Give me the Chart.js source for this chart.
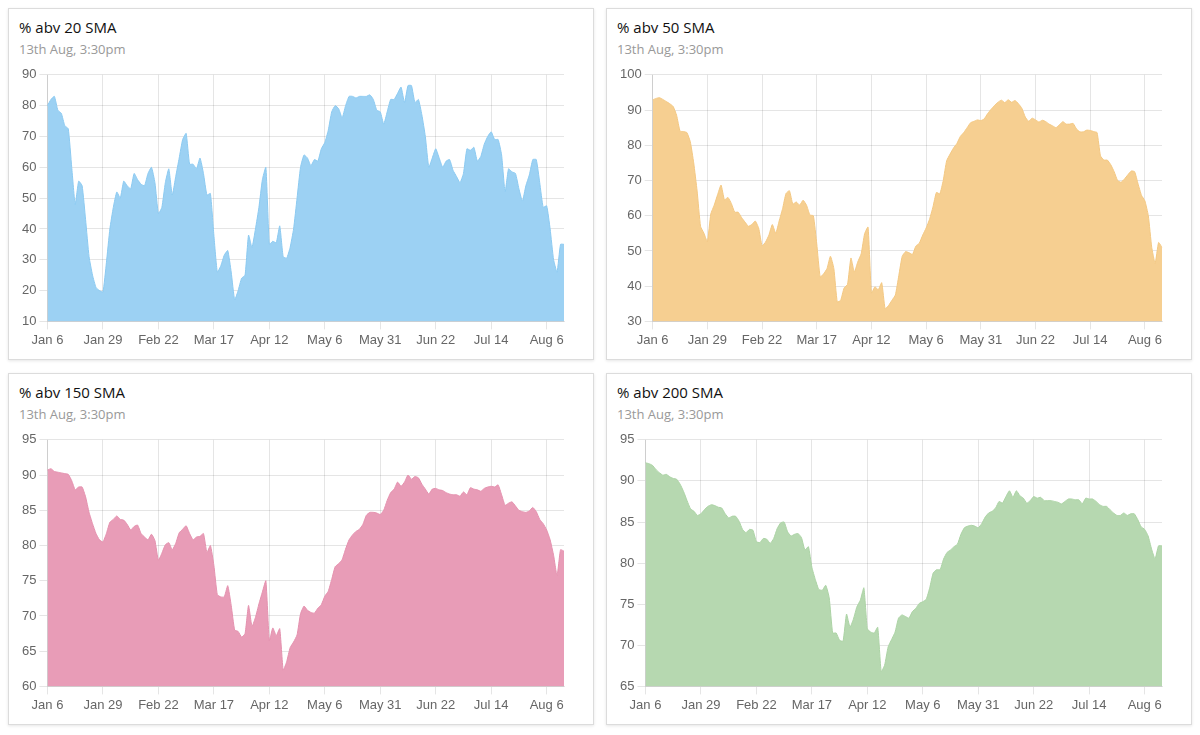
<!DOCTYPE html>
<html>
<head>
<meta charset="utf-8">
<script src="https://cdn.jsdelivr.net/npm/chart.js@4"></script>
<style>
  html, body { margin: 0; padding: 0; background: #fff; }
  body { width: 1200px; height: 735px; position: relative; overflow: hidden; }
  .card { position: absolute; width: 586px; height: 352px; background: #fff;
          border: 1px solid #dcdcdc; box-sizing: border-box;
          box-shadow: 0 1px 3px rgba(0,0,0,0.10); }
  .title { position: absolute; left: 10px; top: 9px; font-family: "Open Sans", "Liberation Sans", sans-serif;
           font-size: 15px; line-height: 18px; color: #111; white-space: nowrap; }
  .sub { position: absolute; left: 10px; top: 32px; font-family: "Open Sans", "Liberation Sans", sans-serif;
         font-size: 13px; line-height: 16px; color: #999; white-space: nowrap; }
  .cw { position: absolute; left: -1px; top: 55px; width: 586px; height: 292px; }
</style>
</head>
<body>
<div class="card" style="left:8px;top:8px"><div class="title">% abv 20 SMA</div><div class="sub">13th Aug, 3:30pm</div><div class="cw"><canvas id="c1"></canvas></div></div>
<div class="card" style="left:606px;top:8px"><div class="title">% abv 50 SMA</div><div class="sub">13th Aug, 3:30pm</div><div class="cw"><canvas id="c2"></canvas></div></div>
<div class="card" style="left:8px;top:373px"><div class="title">% abv 150 SMA</div><div class="sub">13th Aug, 3:30pm</div><div class="cw"><canvas id="c3"></canvas></div></div>
<div class="card" style="left:606px;top:373px"><div class="title">% abv 200 SMA</div><div class="sub">13th Aug, 3:30pm</div><div class="cw"><canvas id="c4"></canvas></div></div>
<script>
const tickLabels = ['Jan 6','Jan 29','Feb 22','Mar 17','Apr 12','May 6','May 31','Jun 22','Jul 14','Aug 6'];
const tickEvery = 16;

const sma20 = [
80, 82, 83, 78.5, 77.5, 73.5, 72.5, 60, 48, 55.5,
54, 43, 31, 25, 21, 20, 19.5, 29, 40, 47,
52, 50, 55.5, 54, 53, 58, 56, 54.5, 54, 58,
60, 55, 45, 47, 55, 59.5, 51, 57, 63, 69,
71, 61, 61, 59.5, 63, 58, 51, 51.5, 38, 26,
28, 31.5, 33, 26, 17, 20, 24, 25, 38, 34,
40, 47, 56, 60, 35, 36, 35.5, 41, 31, 30.5,
34, 40, 50, 60, 64, 63, 60.5, 62.5, 62, 66,
68, 72, 78, 80, 79, 76, 80, 83, 83, 82.5,
83, 83, 83, 83.5, 82, 78.5, 78, 74, 78, 82,
82, 84, 86, 81, 86.5, 86.5, 81, 82, 77, 70,
60, 63, 66, 63, 60, 62, 62.5, 59, 57, 55,
58, 66, 65.5, 66.5, 62, 63.5, 67.5, 70, 71.5, 69,
69, 64, 52, 59.5, 58.5, 58, 53, 49, 54, 57.5,
62.5, 62.5, 55, 47, 47.5, 40, 30, 26, 35, 35
];

const sma50 = [
92.9, 93.3, 93.5, 93, 92.4, 91.8, 91, 88.5, 84, 83.9,
83.6, 81, 75, 67, 57, 55, 52.6, 60.5, 63, 66,
68.7, 64.5, 65.2, 63.5, 61, 61, 59.5, 58.2, 57, 57.5,
58.5, 56.5, 51.5, 52.5, 54.5, 57.5, 55, 58.5, 62, 66.3,
67.1, 63.3, 63.9, 63, 64.4, 63, 60.2, 60, 52, 42.6,
43.5, 45, 48.5, 45, 35.5, 36, 39.5, 40.5, 48, 44,
46.9, 49.2, 54.9, 56.8, 38, 39.8, 39, 41, 33.6, 34.5,
36, 37.5, 43, 48.5, 49.8, 49.5, 49, 51.4, 52.2, 54.5,
56.5, 59, 62.5, 66.6, 66.2, 70, 75.6, 77.5, 79.2, 80.5,
82.5, 83.6, 85, 86.4, 86.8, 87.2, 87, 87.5, 89, 90.2,
91.3, 92.2, 92.8, 92.1, 92.9, 92.2, 92.7, 91.8, 90.5, 88,
86.8, 87.7, 87.2, 86.6, 87.1, 86.7, 86, 85.5, 85, 85.8,
86.7, 86, 86, 86.2, 84.6, 83.8, 83.8, 84.3, 84.2, 83.9,
83.6, 77, 75.8, 75.8, 74.5, 72.5, 70, 69.5, 70.4, 71.6,
72.7, 72.5, 69, 65.8, 64.2, 60, 51, 46.5, 52.4, 51
];

const sma150 = [
90.7, 90.9, 90.5, 90.4, 90.3, 90.2, 90.1, 89.2, 87.9, 88.3,
88.3, 86.9, 84.7, 83.1, 81.7, 80.8, 80.5, 81.7, 83.3, 83.7,
84.2, 83.7, 83.6, 83, 82.2, 82.7, 82.9, 81.7, 81.2, 80.8,
81.6, 80.7, 77.9, 78.9, 80.1, 80.4, 79.4, 80.3, 81.8, 82.3,
82.8, 81.7, 80.8, 81.2, 81.3, 81.7, 79, 80, 77.2, 73,
72.7, 72.7, 74.3, 71.5, 68, 67.8, 67, 67.5, 71.5, 68.5,
69.8, 71.7, 73.4, 75, 66.5, 68.3, 67.2, 68.2, 62.3, 63.5,
65.5, 66.3, 67.3, 70.3, 71.4, 70.8, 70.5, 70.4, 71.1, 71.6,
72.8, 73.5, 75.2, 77, 77.4, 78, 79.5, 80.8, 81.5, 82,
82.3, 83, 84.3, 84.7, 84.7, 84.6, 84.4, 85, 86.4, 87.5,
88, 89, 88.4, 89, 90, 89.4, 89.8, 89.6, 88.7, 88,
87.3, 88, 88.1, 87.9, 87.8, 87.5, 87.3, 87.2, 87.2, 87,
87.6, 87.2, 88.2, 88, 87.9, 87.7, 88.1, 88.3, 88.4, 88.3,
88.6, 87.2, 85.7, 86, 86.2, 85.6, 85, 84.8, 84.7, 84.9,
85.4, 84.8, 83.7, 83.1, 82.2, 80.8, 78.6, 75.7, 79.4, 79.2
];

const sma200 = [
92.2, 92.1, 91.9, 91.4, 91, 90.7, 90.8, 90.5, 90.3, 90.2,
89.6, 88.7, 87.6, 86.6, 86.3, 85.8, 86, 86.5, 86.9, 87.1,
87, 86.8, 86.7, 86, 85.5, 85.7, 85.7, 85.1, 84.1, 83.7,
84.1, 84, 82.6, 82.5, 83, 82.9, 82.4, 83, 84.2, 84.9,
85, 83.8, 83.3, 83.5, 83.6, 83.1, 81.6, 82, 79.5, 78,
76.8, 76.7, 77.3, 75.8, 71.5, 71.5, 70.6, 70.5, 73.8, 72.2,
73.2, 74.7, 75.5, 77, 72, 71.6, 71.5, 72.2, 66.8, 67.6,
69.8, 70.7, 71.6, 73.3, 73.7, 73.5, 73.3, 74.1, 74.5, 75.1,
75.3, 75.6, 77, 78.8, 79.2, 79.2, 80.5, 81.3, 81.6, 82,
82.3, 83.5, 84.3, 84.5, 84.6, 84.5, 84.3, 84.8, 85.6, 86.1,
86.3, 86.7, 87.5, 87.3, 88.1, 88.8, 88, 88.8, 88.2, 87.9,
87.3, 87.6, 88.1, 87.9, 88, 87.6, 87.6, 87.6, 87.5, 87.4,
87.2, 87.5, 87.8, 87.8, 87.7, 87.7, 87.2, 87.9, 87.8, 87.8,
87.5, 87.1, 86.9, 86.9, 86.5, 86.1, 85.8, 85.8, 86.1, 85.8,
86, 86, 85.3, 84.4, 84.1, 83.3, 81.7, 80.5, 82.1, 82.1
];

const labels = sma20.map((_, i) => (i % tickEvery === 0 && tickLabels[i / tickEvery]) ? tickLabels[i / tickEvery] : '');

const tickFont = { family: '"Liberation Sans", Helvetica, Arial, sans-serif', size: 13 };

function makeChart(id, data, fillColor, lineColor, yMin, yMax, yStep) {
  new Chart(document.getElementById(id), {
    type: 'line',
    data: {
      labels: labels,
      datasets: [{
        data: data,
        backgroundColor: fillColor,
        borderColor: lineColor,
        borderWidth: 1,
        fill: 'start',
        pointRadius: 0,
        pointHoverRadius: 0,
        tension: 0.15
      }]
    },
    options: {
      responsive: true,
      maintainAspectRatio: false,
      animation: false,
      layout: { padding: { left: 11, right: 30, top: 10, bottom: 5 } },
      plugins: { legend: { display: false }, tooltip: { enabled: false } },
      scales: {
        x: {
          grid: { color: 'rgba(0,0,0,0.1)', tickLength: 8 },
          ticks: {
            autoSkip: false, maxRotation: 0, minRotation: 0, padding: 3,
            color: '#666', font: tickFont,
            callback: function (v, i) { const l = labels[v]; return l === '' ? null : l; }
          }
        },
        y: {
          min: yMin, max: yMax,
          grid: { color: 'rgba(0,0,0,0.1)', tickLength: 8 },
          ticks: { stepSize: yStep, padding: 3, color: '#666', font: tickFont }
        }
      }
    }
  });
}

makeChart('c1', sma20, '#9cd1f3', '#8ccaf1', 10, 90, 10);
makeChart('c2', sma50, '#f6cf91', '#f3c883', 30, 100, 10);
makeChart('c3', sma150, '#e89cb7', '#e492af', 60, 95, 5);
makeChart('c4', sma200, '#b6d8b0', '#acd3a5', 65, 95, 5);
</script>
</body>
</html>
